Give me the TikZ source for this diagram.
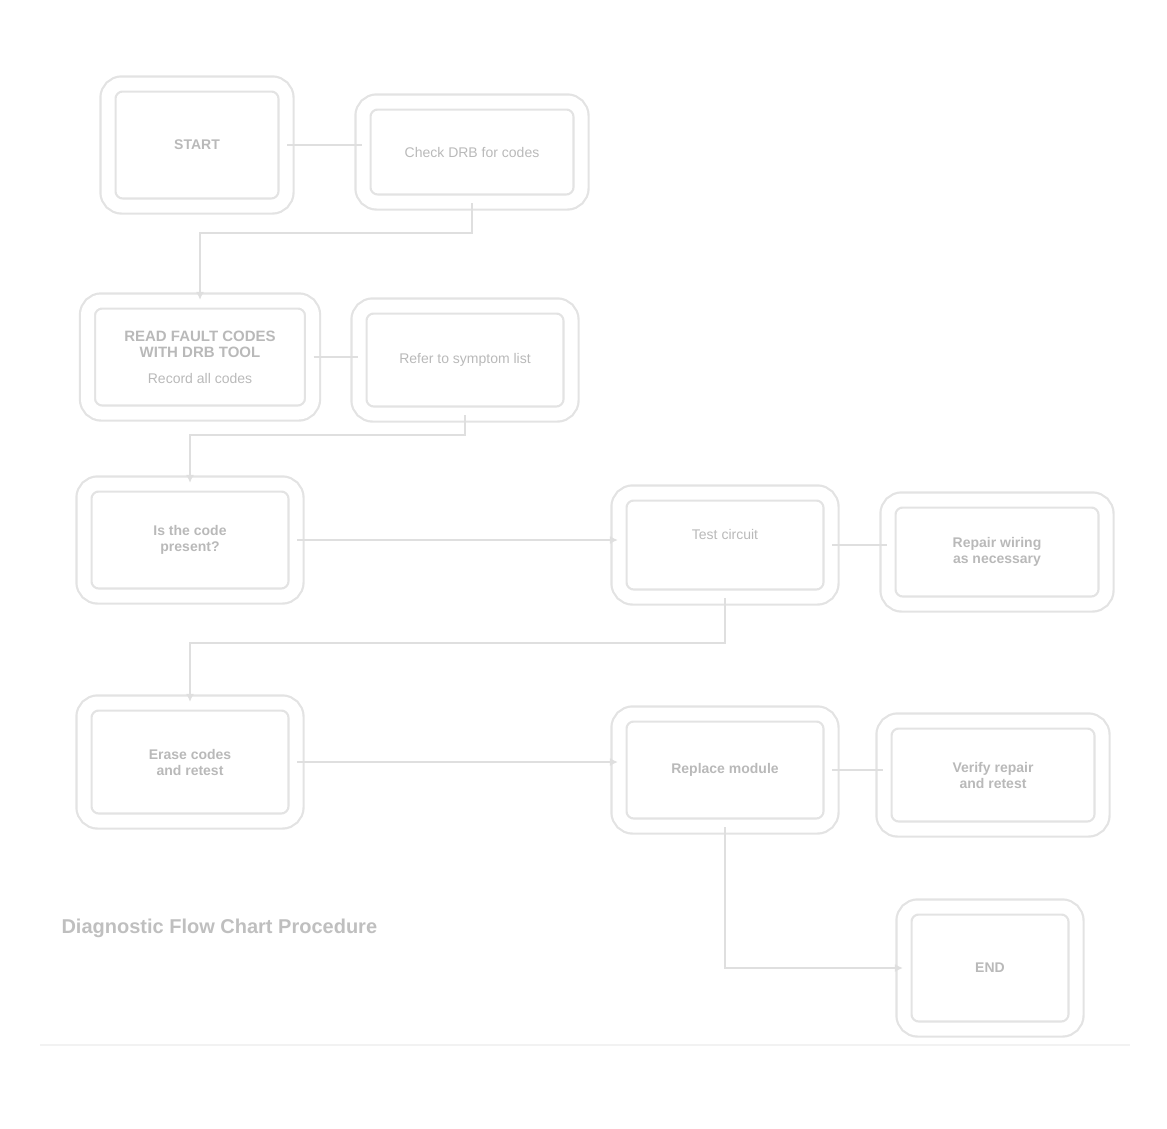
\documentclass[tikz,border=0pt]{standalone}
\usepackage{fontspec}
\setmainfont{Liberation Sans}
\usetikzlibrary{arrows.meta}
\begin{document}
\begin{tikzpicture}[x=1pt,y=-1pt,
  box/.style={draw=gray!22, line width=2.2pt, double=white, double distance=13pt,
    rounded corners=14pt, align=center, text=gray!55, font=\fontsize{14}{16}\selectfont},
  conn/.style={draw=gray!25, line width=2.2pt},
  tip/.style={-{Latex[length=8pt,width=8pt]}}]
\useasboundingbox (0,0) rectangle (1167,1128);
\node[box, minimum width=178pt, minimum height=122pt] (A) at (197,145) {\textbf{START}};
\node[box, minimum width=218pt, minimum height=100pt] (B) at (472,152) {Check DRB for codes};
\node[box, minimum width=225pt, minimum height=112pt] (C) at (200,357) {\textbf{\fontsize{15}{17}\selectfont READ FAULT CODES}\\\textbf{\fontsize{15}{17}\selectfont WITH DRB TOOL}\\[10pt] Record all codes};
\node[box, minimum width=212pt, minimum height=108pt] (D) at (465,360) {Refer to symptom list};
\node[box, minimum width=212pt, minimum height=112pt] (E) at (190,540) {\textbf{Is the code}\\\textbf{present?}};
\node[box, minimum width=212pt, minimum height=104pt] (F) at (725,545) {Test circuit\\[6pt]\ };
\node[box, minimum width=218pt, minimum height=104pt] (G) at (997,552) {\textbf{Repair wiring}\\\textbf{as necessary}};
\node[box, minimum width=212pt, minimum height=118pt] (H) at (190,762) {\textbf{Erase codes}\\\textbf{and retest}};
\node[box, minimum width=212pt, minimum height=112pt] (I) at (725,770) {\textbf{Replace module}};
\node[box, minimum width=218pt, minimum height=108pt] (J) at (993,775) {\textbf{Verify repair}\\\textbf{and retest}};
\node[box, minimum width=172pt, minimum height=122pt] (K) at (990,968) {\textbf{END}};
\node[anchor=west, text=gray!50, font=\bfseries\fontsize{20}{22}\selectfont] (T) at (58,928) {Diagnostic Flow Chart Procedure};
\coordinate (L1) at (40,1045);
\coordinate (L2) at (1130,1045);
\draw[draw=gray!10, line width=1.5pt] (L1) -- (L2);
% connectors
\draw[conn] (A.east) -- (A.east -| B.west);
\draw[conn, tip] (B.south) -- ++(0,30) -| (C.north);
\draw[conn] (C.east) -- (C.east -| D.west);
\draw[conn, tip] (D.south) -- ++(0,20) -| (E.north);
\draw[conn, tip] (E.east) -- (E.east -| F.west);
\draw[conn] (F.east) -- (F.east -| G.west);
\draw[conn, tip] (F.south) -- ++(0,45) -| (H.north);
\draw[conn, tip] (H.east) -- (H.east -| I.west);
\draw[conn] (I.east) -- (I.east -| J.west);
\draw[conn, tip] (I.south) |- (K.west);
\end{tikzpicture}
\end{document}
